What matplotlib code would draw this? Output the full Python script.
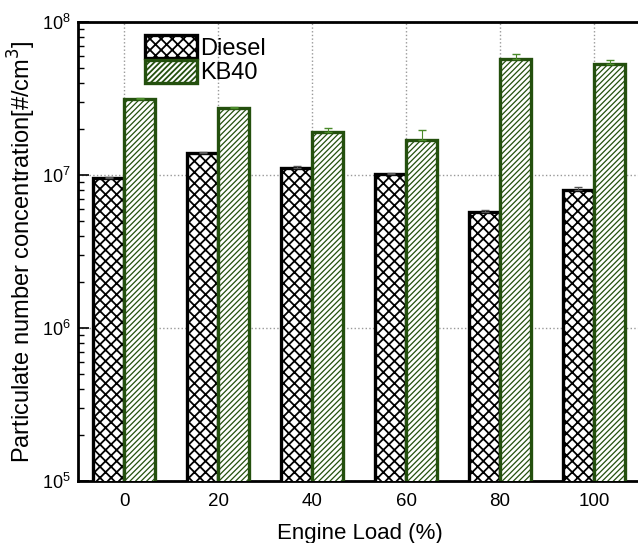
import matplotlib.pyplot as plt
import numpy as np

plt.rcParams['font.family'] = ['Liberation Sans', 'DejaVu Sans']
plt.rcParams['hatch.linewidth'] = 1.3

# data
loads = ['0', '20', '40', '60', '80', '100']
diesel = [9.6e6, 1.39e7, 1.11e7, 1.01e7, 5.7e6, 7.95e6]
diesel_err = [0.1e6, 0.2e6, 0.3e6, 0.2e6, 0.2e6, 0.4e6]
kb40 = [3.14e7, 2.74e7, 1.91e7, 1.69e7, 5.72e7, 5.31e7]
kb40_err = [0.3e6, 0.5e6, 1.2e6, 2.8e6, 4.5e6, 3.4e6]

x = np.arange(len(loads))
w = 0.33
green = '#24500e'

fig = plt.figure(figsize=(6.38, 5.43), dpi=100)
ax = fig.add_axes([78 / 638, 1 - 481 / 543, 563 / 638, 459 / 543])

b1 = ax.bar(x - w / 2, diesel, w, color='white', edgecolor='black', hatch='xxx',
            linewidth=2.4, zorder=3, label='Diesel')
b2 = ax.bar(x + w / 2, kb40, w, color='white', edgecolor=green, hatch='//////',
            linewidth=2.4, zorder=3, label='KB40')
# thinner stripes for the KB40 bars, if this matplotlib allows it per patch
for p in b2:
    if hasattr(p, 'set_hatch_linewidth'):
        p.set_hatch_linewidth(0.9)

ax.errorbar(x - w / 2, diesel, yerr=[np.zeros(6), diesel_err], fmt='none',
            ecolor='#555555', elinewidth=0.8, capsize=3, zorder=4)
ax.errorbar(x + w / 2, kb40, yerr=[np.zeros(6), kb40_err], fmt='none',
            ecolor='#4a8a2a', elinewidth=0.8, capsize=3, zorder=4)

ax.set_yscale('log')
ax.set_ylim(1e5, 1e8)
ax.set_xlim(-0.49, 5.5)
ax.set_xticks(x)
ax.set_xticklabels(loads)
ax.grid(True, linestyle=':', color='#999999', linewidth=1, zorder=0)
ax.set_axisbelow(True)

for s in ['left', 'bottom', 'top']:
    ax.spines[s].set_linewidth(2)
ax.spines['right'].set_visible(False)

ax.tick_params(axis='x', length=0, labelsize=13.5, pad=9)
ax.tick_params(axis='y', which='major', direction='in', length=8, width=1.2,
               labelsize=13, pad=5)
ax.tick_params(axis='y', which='minor', direction='in', length=4, width=1)

ax.set_xlabel('Engine Load (%)', fontsize=16, labelpad=9)
ax.set_ylabel('Particulate number concentration[#/cm$^3$]', fontsize=17)
ax.yaxis.set_label_coords(-0.071, 0.5)

ax.legend(loc='upper left', bbox_to_anchor=(0.119, 0.972), frameon=False, fontsize=17,
          handlelength=2.2, handleheight=1.15, handletextpad=0.15, labelspacing=0.0,
          borderaxespad=0, borderpad=0)

fig.savefig('out.png', dpi=100)
